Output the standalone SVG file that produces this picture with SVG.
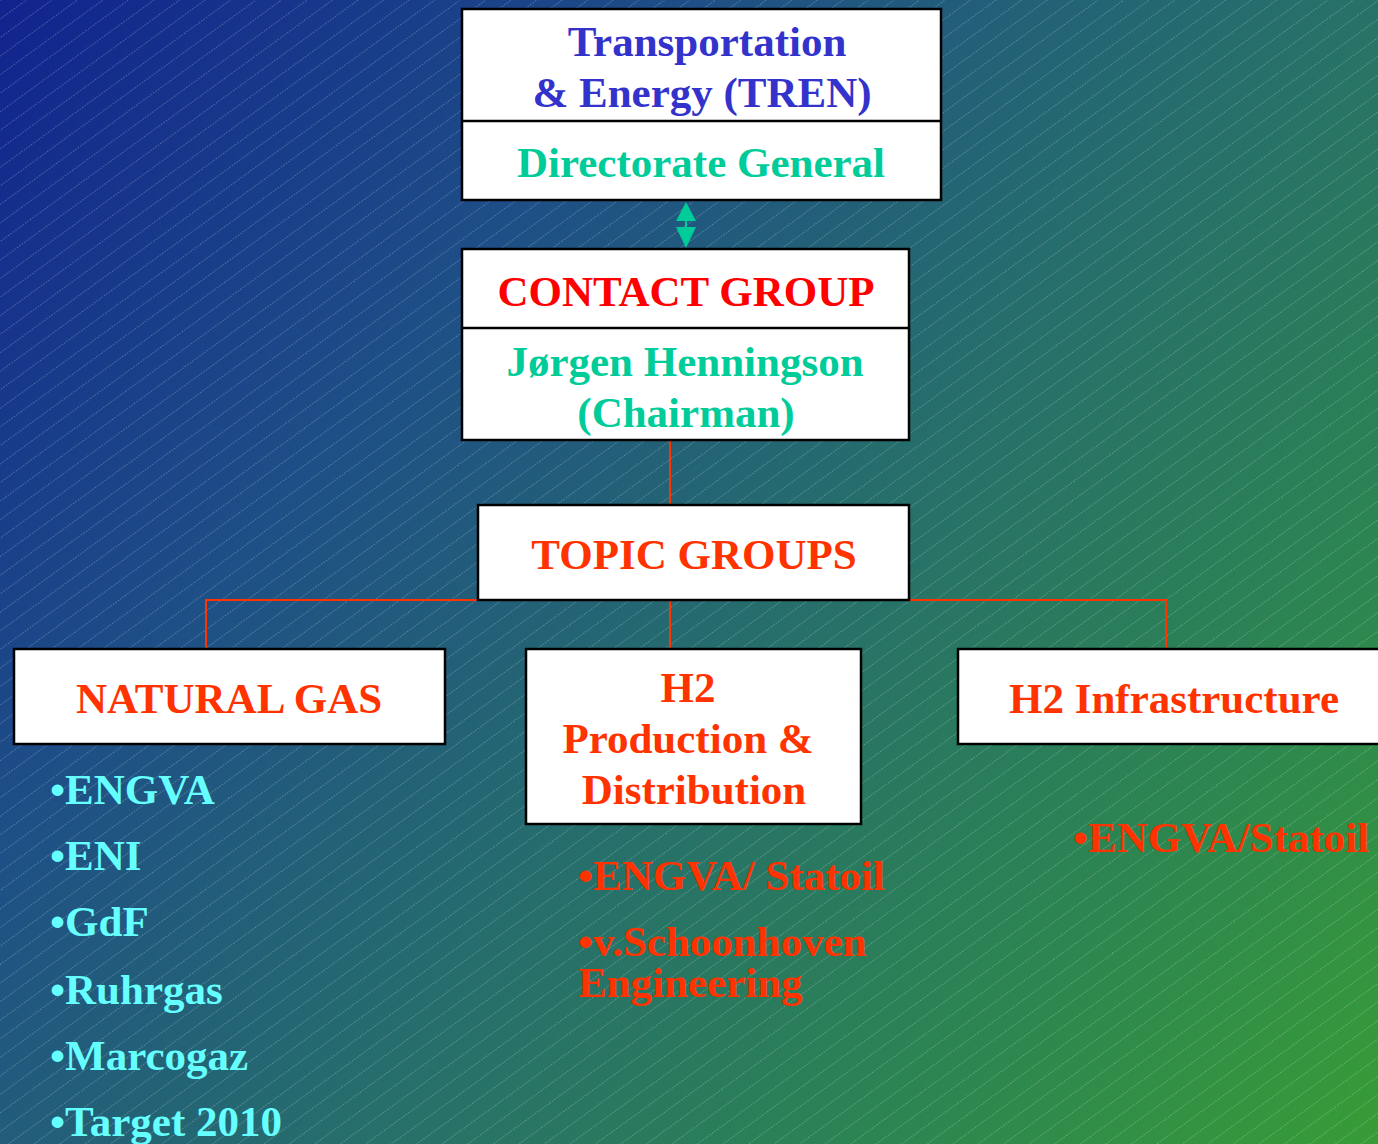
<svg xmlns="http://www.w3.org/2000/svg" width="1378" height="1144" viewBox="0 0 1378 1144">
<defs>
<linearGradient id="bg" gradientUnits="userSpaceOnUse" x1="0" y1="0" x2="1378" y2="1144">
<stop offset="0" stop-color="#11238e"/>
<stop offset="0.3" stop-color="#1e4f86"/>
<stop offset="0.55" stop-color="#266e6c"/>
<stop offset="0.8" stop-color="#2d8650"/>
<stop offset="1" stop-color="#379c36"/>
</linearGradient>
<pattern id="hatch" patternUnits="userSpaceOnUse" width="12" height="15" patternTransform="rotate(-36)">
<line x1="0" y1="0.5" x2="12" y2="0.5" stroke="#ffffff" stroke-opacity="0.27" stroke-width="1" stroke-dasharray="1.5 1.5"/>
</pattern>
</defs>
<style>
.box{fill:#ffffff;stroke:#000000;stroke-width:2.5}
.div{stroke:#000000;stroke-width:2.5}
.t{font-family:"Liberation Serif","Times New Roman",serif;font-weight:bold;font-size:43px}
.c{text-anchor:middle}
.blue{fill:#3333cc}
.green{fill:#00cc99}
.red{fill:#ff0000}
.orange{fill:#ff3300}
.cyan{fill:#66ffff}
.conn{stroke:#ff3300;stroke-width:2;fill:none}
</style>
<rect x="0" y="0" width="1378" height="1144" fill="url(#bg)"/>
<rect x="0" y="0" width="1378" height="1144" fill="url(#hatch)"/>

<g id="connectors">
<line class="conn" x1="670" y1="440" x2="670" y2="505"/>
<polyline class="conn" points="206,649 206,600 1166,600 1166,649"/>
<line class="conn" x1="670" y1="600" x2="670" y2="649"/>
<g id="arrow" fill="#00cc99">
<polygon points="686,202 696,221 676,221"/>
<rect x="685" y="220" width="2" height="8"/>
<polygon points="676,227 696,227 686,248"/>
</g>
</g>

<g id="tren">
<rect class="box" x="462" y="9" width="479" height="191"/>
<line class="div" x1="462" y1="121" x2="941" y2="121"/>
<text class="t c blue" x="707" y="56">Transportation</text>
<text class="t c blue" x="702" y="107">&amp; Energy (TREN)</text>
<text class="t c green" x="701" y="177">Directorate General</text>
</g>

<g id="contact">
<rect class="box" x="462" y="249" width="447" height="191"/>
<line class="div" x1="462" y1="328" x2="909" y2="328"/>
<text class="t c red" x="686" y="306">CONTACT GROUP</text>
<text class="t c green" x="685" y="376">Jørgen Henningson</text>
<text class="t c green" x="686" y="427">(Chairman)</text>
</g>

<g id="topic">
<rect class="box" x="478" y="505" width="431" height="95"/>
<text class="t c orange" x="694" y="569">TOPIC GROUPS</text>
</g>

<g id="naturalgas">
<rect class="box" x="14" y="649" width="431" height="95"/>
<text class="t c orange" x="229" y="713">NATURAL GAS</text>
</g>

<g id="h2prod">
<rect class="box" x="526" y="649" width="335" height="175"/>
<text class="t c orange" x="688" y="702">H2</text>
<text class="t c orange" x="688" y="753">Production &amp;</text>
<text class="t c orange" x="694" y="804">Distribution</text>
</g>

<g id="h2infra">
<rect class="box" x="958" y="649" width="440" height="95"/>
<text class="t c orange" x="1174" y="713">H2 Infrastructure</text>
</g>

<g id="ng-list">
<text class="t cyan" x="50" y="804">•ENGVA</text>
<text class="t cyan" x="50" y="870">•ENI</text>
<text class="t cyan" x="50" y="936">•GdF</text>
<text class="t cyan" x="50" y="1004">•Ruhrgas</text>
<text class="t cyan" x="50" y="1070">•Marcogaz</text>
<text class="t cyan" x="50" y="1136">•Target 2010</text>
</g>

<g id="h2prod-list">
<text class="t orange" x="578" y="890">•ENGVA/ Statoil</text>
<text class="t orange" x="578" y="956">•v.Schoonhoven</text>
<text class="t orange" x="578" y="997">Engineering</text>
</g>

<g id="h2infra-list">
<text class="t orange" x="1073" y="852">•ENGVA/Statoil</text>
</g>
</svg>
